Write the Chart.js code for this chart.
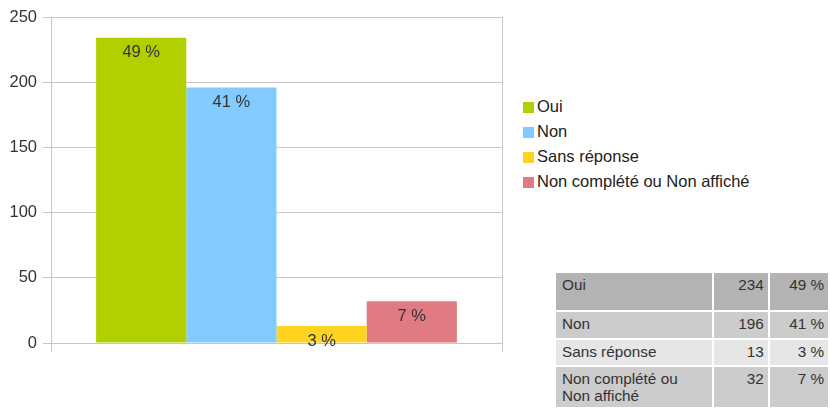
<!DOCTYPE html>
<html>
<head>
<meta charset="utf-8">
<script src="https://cdn.jsdelivr.net/npm/chart.js@4"></script>
<style>
  body { margin: 0; background: #fff; font-family: "Liberation Sans", Arial, sans-serif; }
  #wrap { position: relative; width: 830px; height: 408px; }
  #chartBox { position: absolute; left: 0; top: 0; width: 520px; height: 408px; }
  #legend { position: absolute; left: 523px; top: 96px; font-size: 16.5px; color: #222; }
  #legend div { height: 25px; line-height: 20px; white-space: nowrap; }
  #legend span.sw { display: inline-block; width: 11px; height: 11px; margin-right: 3px; vertical-align: -1px; }
  #tbl { position: absolute; left: 554px; top: 271px; border-collapse: collapse; font-size: 15.3px; color: #333; }
  #tbl td { border: 2px solid #fff; padding: 3px 6px 0 6px; vertical-align: top; line-height: 17px; }
  #tbl td.num { text-align: right; padding-right: 4px; }
</style>
</head>
<body>
<div id="wrap">
  <div id="chartBox"><canvas id="chart"></canvas></div>
  <div id="legend"></div>
  <table id="tbl"></table>
</div>
<script>
// Data
const categories = ["Oui", "Non", "Sans réponse", "Non complété ou Non affiché"];
const tableNames = ["Oui", "Non", "Sans réponse", "Non complété ou<br>Non affiché"];
const counts = [234, 196, 13, 32];
const percents = [49, 41, 3, 7];
const yTicks = [0, 50, 100, 150, 200, 250];

// Colors
const barColors = ["#b2d000", "#83caff", "#ffd320", "#e07b84"];
const rowColors = ["#b3b3b3", "#cccccc", "#e6e6e6", "#cccccc"];
const rowHeights = [39, 28, 27, 42];
const gridColor = "#c6c6c6";

// Labels inside bars
const barLabels = {
  id: "barLabels",
  afterDatasetsDraw(chart) {
    const ctx = chart.ctx;
    ctx.save();
    ctx.font = "16.5px 'Liberation Sans', Arial, sans-serif";
    ctx.fillStyle = "#333";
    ctx.textAlign = "center";
    ctx.textBaseline = "middle";
    chart.data.datasets.forEach((ds, i) => {
      const bar = chart.getDatasetMeta(i).data[0];
      ctx.fillText(percents[i] + " %", bar.x, bar.y + 15);
    });
    ctx.restore();
  },
};

new Chart(document.getElementById("chart"), {
  type: "bar",
  data: {
    labels: [""],
    datasets: categories.map((name, i) => ({
      label: name,
      data: [counts[i]],
      backgroundColor: barColors[i],
      borderWidth: 0,
    })),
  },
  options: {
    responsive: true,
    maintainAspectRatio: false,
    animation: false,
    categoryPercentage: 0.8,
    barPercentage: 1,
    layout: { padding: { top: 17, right: 18, bottom: 56, left: 0 } },
    scales: {
      x: {
        ticks: { display: false },
        grid: { color: gridColor, tickLength: 9, drawTicks: true },
        border: { color: gridColor },
        afterFit: (scale) => { scale.height = 9; },
      },
      y: {
        min: 0,
        max: 250,
        afterBuildTicks: (scale) => { scale.ticks = yTicks.map((v) => ({ value: v })); },
        ticks: {
          color: "#333",
          padding: 6,
          font: { family: "'Liberation Sans', Arial, sans-serif", size: 16.5 },
        },
        grid: { color: gridColor, tickLength: 8 },
        border: { color: gridColor },
        afterFit: (scale) => { scale.width = 51; },
      },
    },
    plugins: {
      legend: { display: false },
      tooltip: { enabled: false },
    },
  },
  plugins: [barLabels],
});

// Legend
const legendEl = document.getElementById("legend");
categories.forEach((name, i) => {
  const row = document.createElement("div");
  row.innerHTML = '<span class="sw" style="background:' + barColors[i] + '"></span>' + name;
  legendEl.appendChild(row);
});

// Table
const tbl = document.getElementById("tbl");
tableNames.forEach((name, i) => {
  const tr = document.createElement("tr");
  tr.style.background = rowColors[i];
  tr.style.height = rowHeights[i] + "px";
  tr.innerHTML =
    '<td style="width:146px">' + name + "</td>" +
    '<td class="num" style="width:44px">' + counts[i] + "</td>" +
    '<td class="num" style="width:49px">' + percents[i] + " %</td>";
  tbl.appendChild(tr);
});
</script>
</body>
</html>
